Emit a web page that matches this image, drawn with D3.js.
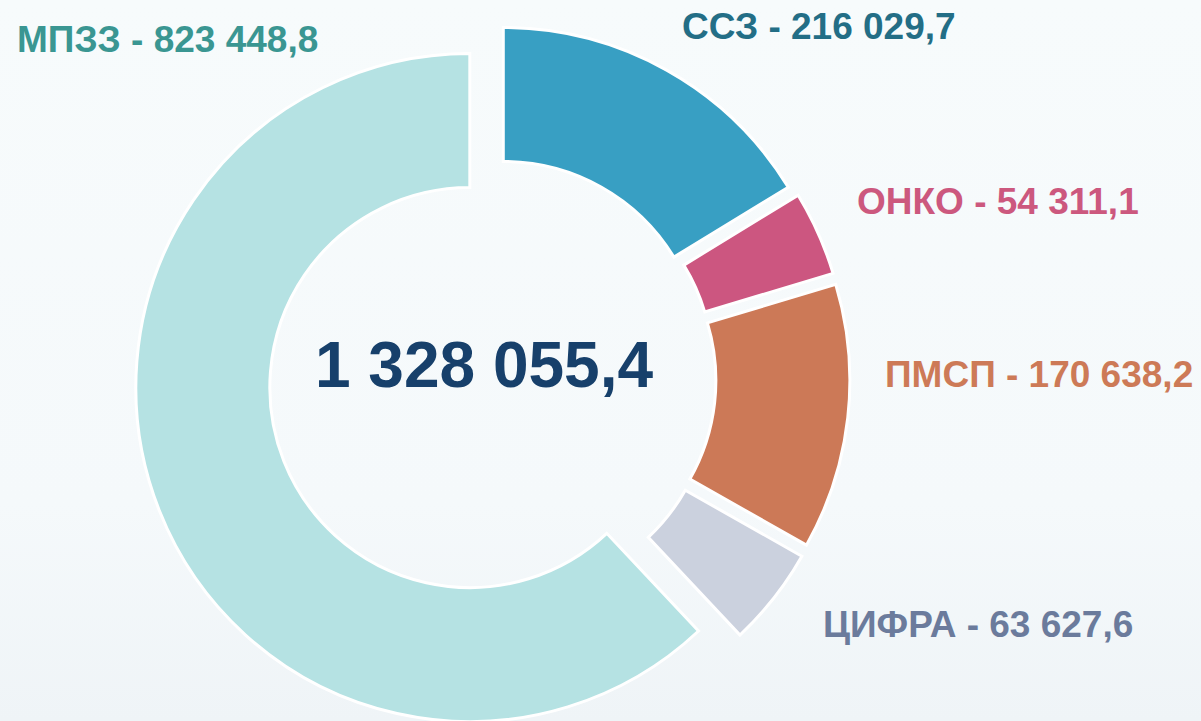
<!DOCTYPE html>
<html>
  <head>
    <meta charset="utf-8">
    <script src="https://d3js.org/d3.v7.min.js"></script>
    <title>Donut</title>
    <style>
      body { margin: 0px; }
      text { font-family: "Liberation Sans", Arial, sans-serif; font-weight: bold; }
    </style>
  </head>
  <body>
    <svg width="1201" height="721"></svg>
    <script>
      // data
      const categories = ['ССЗ', 'ОНКО', 'ПМСП', 'ЦИФРА', 'МПЗЗ'];
      const values = [216029.7, 54311.1, 170638.2, 63627.6, 823448.8];
      const totalLabel = '1 328 055,4';

      // styles
      const fills = ['#389fc3', '#cc5680', '#cc7957', '#cbd1de', '#b5e2e3'];
      const labelColors = ['#236e86', '#cc587e', '#cd7a57', '#6b7b9c', '#3a9692'];
      const explode = [19, 21, 22, 22, 26];
      const labelPos = [[682, 39], [857, 214], [885, 387], [823, 637], [17, 52]];

      const svg = d3.select('svg');
      const width = +svg.attr('width');
      const height = +svg.attr('height');

      const defs = svg.append('defs');
      const grad = defs.append('linearGradient')
          .attr('id', 'bg').attr('x1', 0).attr('y1', 0).attr('x2', 0).attr('y2', 1);
      grad.append('stop').attr('offset', '0%').attr('stop-color', '#f7fbfc');
      grad.append('stop').attr('offset', '70%').attr('stop-color', '#f5f9fb');
      grad.append('stop').attr('offset', '100%').attr('stop-color', '#eff4f7');
      svg.append('rect').attr('width', width).attr('height', height).attr('fill', 'url(#bg)');

      const cx = 494, cy = 378;
      const outerR = 334, innerR = 200;

      const data = categories.map((c, i) => ({ name: c, value: values[i], i }));

      const pie = d3.pie().value(d => d.value).sort(null);
      const arc = d3.arc().innerRadius(innerR).outerRadius(outerR);

      const pieG = svg.append('g').attr('transform', `translate(${cx},${cy})`);

      pieG.selectAll('path').data(pie(data))
        .enter().append('path')
          .attr('d', arc)
          .attr('fill', d => fills[d.data.i])
          .attr('stroke', '#ffffff')
          .attr('stroke-width', 3)
          .attr('transform', d => {
            const a = (d.startAngle + d.endAngle) / 2;
            const e = explode[d.data.i];
            return `translate(${Math.sin(a) * e},${-Math.cos(a) * e})`;
          });

      const fmt = v => d3.format(',.1f')(v).replace(/,/g, ' ').replace('.', ',');

      svg.selectAll('.slice-label').data(data)
        .enter().append('text')
          .attr('class', 'slice-label')
          .attr('x', d => labelPos[d.i][0])
          .attr('y', d => labelPos[d.i][1])
          .attr('font-size', 37)
          .attr('fill', d => labelColors[d.i])
          .text(d => `${d.name} - ${fmt(d.value)}`);

      svg.append('text')
          .attr('x', 484)
          .attr('y', 387)
          .attr('text-anchor', 'middle')
          .attr('font-size', 64)
          .attr('fill', '#17406b')
          .text(totalLabel);
    </script>
  </body>
</html>
